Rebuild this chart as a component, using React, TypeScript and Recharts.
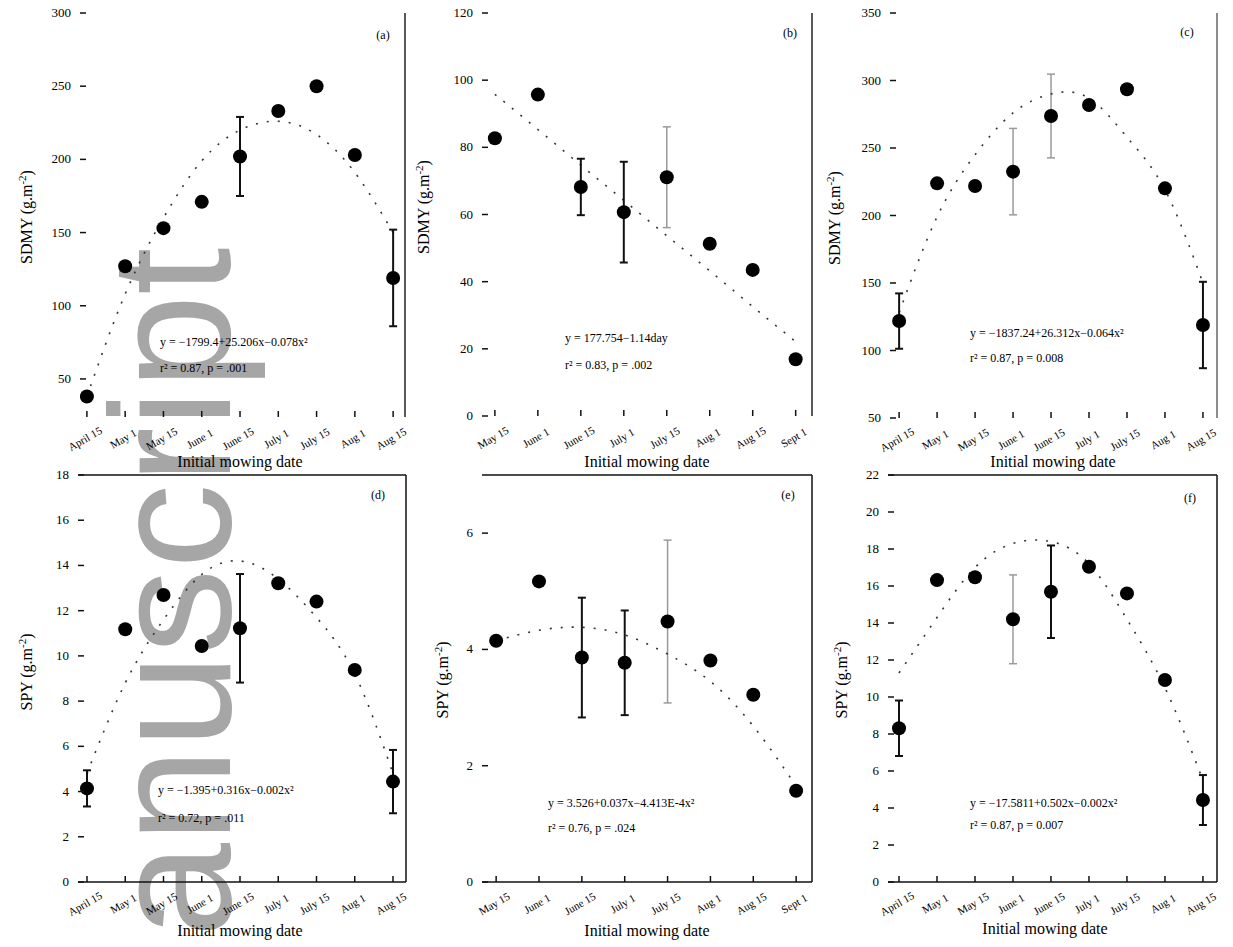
import React from 'react';
import { ComposedChart, Scatter, Line, XAxis, YAxis, ErrorBar, ReferenceLine } from 'recharts';

// ---------- categories / tick labels ----------
const datesNine = ['April 15', 'May 1', 'May 15', 'June 1', 'June 15', 'July 1', 'July 15', 'Aug 1', 'Aug 15'];
const datesEight = ['May 15', 'June 1', 'June 15', 'July 1', 'July 15', 'Aug 1', 'Aug 15', 'Sept 1'];

// ---------- (a) SDMY ----------
const aMean = [38, 127, 153, 171, 202, 233, 250, 203, 119];
const aErr = [0, 0, 0, 0, 27, 0, 0, 0, 33];
const aErrLight = [0, 0, 0, 0, 0, 0, 0, 0, 0];
const aFit = [38, 108, 160, 199, 220, 226, 217, 191, 150];
const aTicks = [50, 100, 150, 200, 250, 300];

// ---------- (b) SDMY ----------
const bMean = [82.7, 95.7, 68.2, 60.7, 71.1, 51.3, 43.5, 16.9];
const bErr = [0, 0, 8.4, 15, 0, 0, 0, 0];
const bErrLight = [0, 0, 0, 0, 15, 0, 0, 0];
const bFit = [95.8, 85.3, 74.7, 64.2, 53.7, 43.2, 32.6, 22.1];
const bTicks = [0, 20, 40, 60, 80, 100, 120];

// ---------- (c) SDMY ----------
const cMean = [121.8, 223.8, 221.9, 232.5, 273.7, 281.9, 293.5, 220.1, 118.9];
const cErr = [20.5, 0, 0, 0, 0, 0, 0, 0, 32];
const cErrLight = [0, 0, 0, 32, 31, 0, 0, 0, 0];
const cFit = [128, 199, 245, 276, 290, 287, 258, 219, 150];
const cTicks = [50, 100, 150, 200, 250, 300, 350];

// ---------- (d) SPY ----------
const dMean = [4.14, 11.18, 12.69, 10.44, 11.22, 13.21, 12.4, 9.38, 4.44];
const dErr = [0.8, 0, 0, 0, 2.4, 0, 0, 0, 1.4];
const dErrLight = [0, 0, 0, 0, 0, 0, 0, 0, 0];
const dFit = [4.8, 8.8, 11.6, 13.6, 14.2, 13.4, 11.7, 9.2, 4.8];
const dTicks = [0, 2, 4, 6, 8, 10, 12, 14, 16, 18];

// ---------- (e) SPY ----------
const eMean = [4.15, 5.17, 3.86, 3.77, 4.48, 3.81, 3.22, 1.57];
const eErr = [0, 0, 1.03, 0.9, 0, 0, 0, 0];
const eErrLight = [0, 0, 0, 0, 1.4, 0, 0, 0];
const eFit = [4.15, 4.33, 4.38, 4.25, 3.92, 3.45, 2.68, 1.65];
const eTicks = [0, 2, 4, 6];

// ---------- (f) SPY ----------
const fMean = [8.31, 16.32, 16.47, 14.2, 15.69, 17.04, 15.6, 10.92, 4.43];
const fErr = [1.5, 0, 0, 0, 2.5, 0, 0, 0, 1.35];
const fErrLight = [0, 0, 0, 2.4, 0, 0, 0, 0, 0];
const fFit = [11.3, 14.3, 17.0, 18.3, 18.4, 17.2, 14.2, 10.5, 5.5];
const fTicks = [0, 2, 4, 6, 8, 10, 12, 14, 16, 18, 20, 22];

const FONT = '"Liberation Serif", "Times New Roman", serif';
const YW = 70;
const MT = 10;
const MR = 8;
const XH = 58;

const XTick = (props: any) => {
  const { x, y, payload, labels } = props;
  return (
    <g>
      <line x1={x} y1={y} x2={x} y2={y - 6} stroke="#111" strokeWidth={1.5} />
      <text
        transform={`translate(${x},${y + 25}) rotate(-30)`}
        textAnchor="middle"
        fontSize={11}
        fontFamily={FONT}
        fill="#000"
      >
        {labels[payload.value]}
      </text>
    </g>
  );
};

const YTick = (props: any) => {
  const { x, y, payload } = props;
  return (
    <g>
      <line x1={x} y1={y} x2={x + 6} y2={y} stroke="#111" strokeWidth={1.5} />
      <text x={x - 9} y={y} dy={4} textAnchor="end" fontSize={13} fontFamily={FONT} fill="#000" stroke="none">
        {payload.value}
      </text>
    </g>
  );
};

const Dot = (p: any) => <circle cx={p.cx} cy={p.cy} r={7} fill="#000" />;
const NoDot = () => <g />;

type Cfg = {
  rect: number[];
  labels: string[];
  mean: number[];
  err: number[];
  errLight: number[];
  fit: number[];
  xDomain: number[];
  yDomain: number[];
  yTicks: number[];
  yTitle: string;
  letter: string;
  eq1: string;
  eq2: string;
  eqPos: number[];
  letterPos: number[];
  yTitlePos: number[];
  xTitlePos: number[];
  boxed: boolean;
  borderColor: string;
};

const panels: Cfg[] = [
  {
    rect: [80, 13, 405, 417], labels: datesNine, mean: aMean, err: aErr, errLight: aErrLight, fit: aFit,
    xDomain: [-0.18, 8.31], yDomain: [24, 300], yTicks: aTicks, yTitle: 'SDMY (g.m', letter: '(a)',
    eq1: 'y = \u22121799.4+25.206x\u22120.078x\u00B2', eq2: 'r\u00B2 = 0.87, p = .001',
    eqPos: [160, 346, 372], letterPos: [383, 39], yTitlePos: [27, 217], xTitlePos: [240, 467], boxed: false, borderColor: '#222',
  },
  {
    rect: [482, 13, 812, 416], labels: datesEight, mean: bMean, err: bErr, errLight: bErrLight, fit: bFit,
    xDomain: [-0.3, 7.38], yDomain: [0, 120], yTicks: bTicks, yTitle: 'SDMY (g.m', letter: '(b)',
    eq1: 'y = 177.754\u22121.14day', eq2: 'r\u00B2 = 0.83, p = .002',
    eqPos: [565, 342, 369], letterPos: [790, 37], yTitlePos: [424, 207], xTitlePos: [647, 467], boxed: false, borderColor: '#222',
  },
  {
    rect: [890, 13, 1217, 418], labels: datesNine, mean: cMean, err: cErr, errLight: cErrLight, fit: cFit,
    xDomain: [-0.24, 8.37], yDomain: [50, 350], yTicks: cTicks, yTitle: 'SDMY (g.m', letter: '(c)',
    eq1: 'y = \u22121837.24+26.312x\u22120.064x\u00B2', eq2: 'r\u00B2 = 0.87, p = 0.008',
    eqPos: [970, 337, 362], letterPos: [1187, 36], yTitlePos: [835, 218], xTitlePos: [1053, 467], boxed: false, borderColor: '#666',
  },
  {
    rect: [78, 475, 406, 882], labels: datesNine, mean: dMean, err: dErr, errLight: dErrLight, fit: dFit,
    xDomain: [-0.235, 8.34], yDomain: [0, 18], yTicks: dTicks, yTitle: 'SPY (g.m', letter: '(d)',
    eq1: 'y = \u22121.395+0.316x\u22120.002x\u00B2', eq2: 'r\u00B2 = 0.72, p = .011',
    eqPos: [158, 794, 822], letterPos: [378, 499], yTitlePos: [27, 672], xTitlePos: [240, 936], boxed: true, borderColor: '#111',
  },
  {
    rect: [482, 475, 812, 882], labels: datesEight, mean: eMean, err: eErr, errLight: eErrLight, fit: eFit,
    xDomain: [-0.33, 7.37], yDomain: [0, 7], yTicks: eTicks, yTitle: 'SPY (g.m', letter: '(e)',
    eq1: 'y = 3.526+0.037x\u22124.413E-4x\u00B2', eq2: 'r\u00B2 = 0.76, p = .024',
    eqPos: [548, 807, 832], letterPos: [788, 499], yTitlePos: [443, 680], xTitlePos: [647, 936], boxed: true, borderColor: '#111',
  },
  {
    rect: [888, 475, 1217, 882], labels: datesNine, mean: fMean, err: fErr, errLight: fErrLight, fit: fFit,
    xDomain: [-0.29, 8.37], yDomain: [0, 22], yTicks: fTicks, yTitle: 'SPY (g.m', letter: '(f)',
    eq1: 'y = \u221217.5811+0.502x\u22120.002x\u00B2', eq2: 'r\u00B2 = 0.87, p = 0.007',
    eqPos: [970, 807, 829], letterPos: [1190, 502], yTitlePos: [842, 680], xTitlePos: [1045, 934], boxed: true, borderColor: '#111',
  },
];

function Panel({ cfg }: { cfg: Cfg }) {
  const [L, T, R, B] = cfg.rect;
  const pw = R - L;
  const ph = B - T;
  const W = YW + pw + MR;
  const H = MT + ph + XH;
  const ox = L - YW;
  const oy = T - MT;
  const data = cfg.mean.map((v, i) => ({ x: i, y: v, e: cfg.err[i], el: cfg.errLight[i], fit: cfg.fit[i] }));
  const [yx, yy] = cfg.yTitlePos;
  const [xx, xy] = cfg.xTitlePos;
  return (
    <div style={{ position: 'absolute', left: ox, top: oy, width: W, height: H }}>
      <ComposedChart width={W} height={H} data={data} margin={{ top: MT, right: MR, bottom: 0, left: 0 }}>
        <XAxis
          type="number"
          dataKey="x"
          domain={cfg.xDomain}
          ticks={cfg.labels.map((_, i) => i)}
          interval={0}
          height={XH}
          allowDataOverflow
          axisLine={cfg.boxed ? { stroke: '#111', strokeWidth: 1.5 } : false}
          tickLine={false}
          tickSize={0}
          tickMargin={0}
          tick={<XTick labels={cfg.labels} />}
        />
        <YAxis
          type="number"
          domain={cfg.yDomain}
          ticks={cfg.yTicks}
          interval={0}
          width={YW}
          allowDataOverflow
          axisLine={false}
          tickLine={false}
          tickSize={0}
          tickMargin={0}
          tick={<YTick />}
        />
        <ReferenceLine x={cfg.xDomain[1]} stroke={cfg.borderColor} strokeWidth={1.5} />
        {cfg.boxed && <ReferenceLine y={cfg.yDomain[1]} stroke="#111" strokeWidth={1.5} />}
        <Scatter data={data} dataKey="y" shape={NoDot} isAnimationActive={false}>
          <ErrorBar dataKey="el" direction="y" width={4} stroke="#9a9a9a" strokeWidth={1.5} />
        </Scatter>
        <Line
          data={data}
          dataKey="fit"
          type="natural"
          stroke="#333"
          strokeWidth={1.6}
          strokeDasharray="2 9"
          dot={false}
          isAnimationActive={false}
        />
        <Scatter data={data} dataKey="y" shape={Dot} isAnimationActive={false}>
          <ErrorBar dataKey="e" direction="y" width={4} stroke="#111" strokeWidth={2} />
        </Scatter>
        <text x={cfg.letterPos[0] - ox} y={cfg.letterPos[1] - oy} textAnchor="middle" fontSize={12} fontFamily={FONT} fill="#000">
          {cfg.letter}
        </text>
        <text x={cfg.eqPos[0] - ox} y={cfg.eqPos[1] - oy} fontSize={12} fontFamily={FONT} fill="#000">
          {cfg.eq1}
        </text>
        <text x={cfg.eqPos[0] - ox} y={cfg.eqPos[2] - oy} fontSize={12} fontFamily={FONT} fill="#000">
          {cfg.eq2}
        </text>
        <text
          transform={`translate(${yx - ox},${yy - oy}) rotate(-90)`}
          textAnchor="middle"
          dy={5}
          fontSize={16}
          fontFamily={FONT}
          fill="#000"
        >
          {cfg.yTitle}
          <tspan dy={-6} fontSize={11}>-2</tspan>
          <tspan dy={6}>)</tspan>
        </text>
        <text x={xx - ox} y={xy - oy} textAnchor="middle" fontSize={16} fontFamily={FONT} fill="#000">
          Initial mowing date
        </text>
      </ComposedChart>
    </div>
  );
}

export default function App() {
  return (
    <div style={{ position: 'absolute', left: 0, top: 0, width: 1233, height: 947, background: '#fff', overflow: 'hidden' }}>
      <svg style={{ position: 'absolute', left: 0, top: 0 }} width={1233} height={947}>
        <text
          transform="translate(230,1079) rotate(-90)"
          fontFamily='"Liberation Sans", Arial, sans-serif'
          fontSize={170}
          fill="#a6a6a6"
        >
          Manuscript
        </text>
      </svg>
      {panels.map((p) => (
        <Panel key={p.letter} cfg={p} />
      ))}
    </div>
  );
}
